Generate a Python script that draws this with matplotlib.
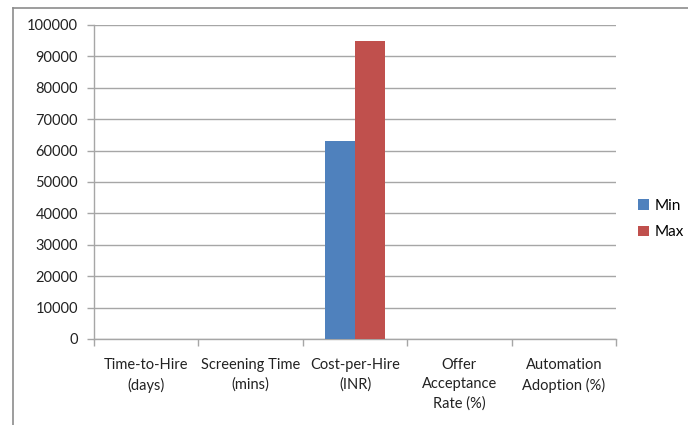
import matplotlib
matplotlib.use("Agg")
import matplotlib.pyplot as plt
from matplotlib.lines import Line2D
import numpy as np

categories = ["Time-to-Hire\n(days)", "Screening Time\n(mins)", "Cost-per-Hire\n(INR)",
              "Offer\nAcceptance\nRate (%)", "Automation\nAdoption (%)"]
series_names = ["Min", "Max"]
min_values = [15, 10, 63000, 70, 40]
max_values = [30, 20, 95000, 90, 70]
y_ticks = [0, 10000, 20000, 30000, 40000, 50000, 60000, 70000, 80000, 90000, 100000]

plt.rcParams['font.family'] = ['Lato', 'DejaVu Sans']

W, H = 688, 425
fig = plt.figure(figsize=(W / 100, H / 100), dpi=100)
ax = fig.add_axes([94 / W, 1 - 339 / H, (616 - 94) / W, (339 - 25) / H])

x = np.arange(len(categories))
bw = 1 / 3.5
ax.bar(x - bw / 2, min_values, width=bw, color="#4F81BD", label=series_names[0], zorder=3)
ax.bar(x + bw / 2, max_values, width=bw, color="#C0504D", label=series_names[1], zorder=3)

ax.set_xlim(-0.5, len(categories) - 0.5)
ax.set_ylim(0, 100000)
ax.set_yticks(y_ticks)
ax.set_yticklabels([str(v) for v in y_ticks], fontsize=10.5, color="#222222")
ax.yaxis.grid(True, color="#A6A6A6", linewidth=1.0, zorder=0)
ax.set_axisbelow(True)

ax.set_xticks(x)
ax.set_xticklabels(categories, fontsize=10.5, color="#222222", linespacing=1.45, va="top")
ax.set_xticks(np.arange(-0.5, len(categories), 1.0), minor=True)
ax.tick_params(axis="x", which="major", length=0, pad=14)
ax.tick_params(axis="x", which="minor", length=5, direction="out", color="#A6A6A6", width=1)
ax.tick_params(axis="y", length=5, direction="out", color="#A6A6A6", width=1, pad=6.5)

for s in ["top", "right"]:
    ax.spines[s].set_visible(False)
for s in ["left", "bottom"]:
    ax.spines[s].set_color("#A6A6A6")
    ax.spines[s].set_linewidth(1)

fig.legend(loc="center left", bbox_to_anchor=(638 / W, 1 - 219 / H), frameon=False,
           fontsize=11, handlelength=0.7, handleheight=0.7, handletextpad=0.4,
           labelspacing=0.85, borderaxespad=0, borderpad=0)

# chart border (left and top visible)
fig.add_artist(Line2D([12.5 / W, 12.5 / W], [0, 1 - 7.5 / H], transform=fig.transFigure,
                      color="#8C8C8C", linewidth=1.2))
fig.add_artist(Line2D([12.5 / W, 1], [1 - 7.5 / H, 1 - 7.5 / H], transform=fig.transFigure,
                      color="#8C8C8C", linewidth=1.2))

fig.savefig("out.png", dpi=100, facecolor="white")
